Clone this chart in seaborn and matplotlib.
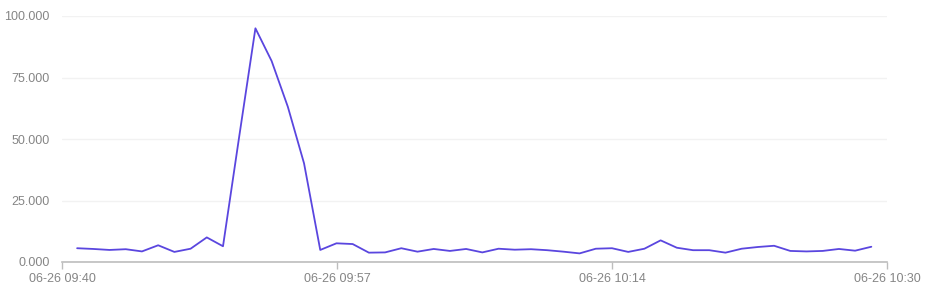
import numpy as np
import pandas as pd
import matplotlib
matplotlib.use("Agg")
import matplotlib.pyplot as plt
import matplotlib.dates as mdates
import seaborn as sns

# ---- data ----
start_time = "2024-06-26 09:40:56"
values = [5.6, 5.3, 4.9, 5.2, 4.3, 6.8, 4.1, 5.4, 10.0, 6.4,
          51.0, 95.0, 81.7, 63.1, 40.1, 4.9, 7.6, 7.3, 3.8, 3.9,
          5.6, 4.2, 5.3, 4.5, 5.3, 3.9, 5.4, 5.0, 5.2, 4.8,
          4.2, 3.5, 5.4, 5.6, 4.1, 5.4, 8.8, 5.8, 4.8, 4.8,
          3.8, 5.4, 6.1, 6.6, 4.5, 4.3, 4.5, 5.3, 4.6, 6.2]
axis_start = "2024-06-26 09:40:00"
axis_end = "2024-06-26 10:30:54"
tick_labels = ["06-26 09:40", "06-26 09:57", "06-26 10:14", "06-26 10:30"]
y_ticks = [0, 25, 50, 75, 100]
y_tick_labels = ["0.000", "25.000", "50.000", "75.000", "100.000"]

times = pd.date_range(start_time, periods=len(values), freq="min")
df = pd.DataFrame({"time": times, "value": values})

sns.set_theme(style="white")
plt.rcParams["font.family"] = ["Liberation Sans", "DejaVu Sans"]

fig = plt.figure(figsize=(9.34, 2.95), dpi=100)
ax = fig.add_axes([62 / 934, 1 - 262 / 295, (887 - 62) / 934, (262 - 16) / 295])

sns.lineplot(data=df, x="time", y="value", ax=ax, color="#5a46df", linewidth=1.3)

x0 = mdates.date2num(pd.Timestamp(axis_start))
x1 = mdates.date2num(pd.Timestamp(axis_end))
ax.set_xlim(x0, x1)
ax.set_ylim(0, 100)

ax.set_xticks(np.linspace(x0, x1, len(tick_labels)))
ax.set_xticklabels(tick_labels)
ax.set_yticks(y_ticks)
ax.set_yticklabels(y_tick_labels)

ax.set_xlabel("")
ax.set_ylabel("")

for s in ["top", "right", "left"]:
    ax.spines[s].set_visible(False)
ax.spines["bottom"].set_color("#bdbdbd")
ax.spines["bottom"].set_linewidth(1.2)

ax.yaxis.grid(True, color="#f2f2f2", linewidth=1)
ax.xaxis.grid(False)
ax.set_axisbelow(True)

ax.tick_params(axis="x", which="both", bottom=True, length=5, width=1,
               color="#bdbdbd", labelsize=9, labelcolor="#858585", pad=3)
ax.tick_params(axis="y", which="both", left=False, length=0,
               labelsize=9, labelcolor="#858585", pad=9)

fig.savefig("out.png", dpi=100)
